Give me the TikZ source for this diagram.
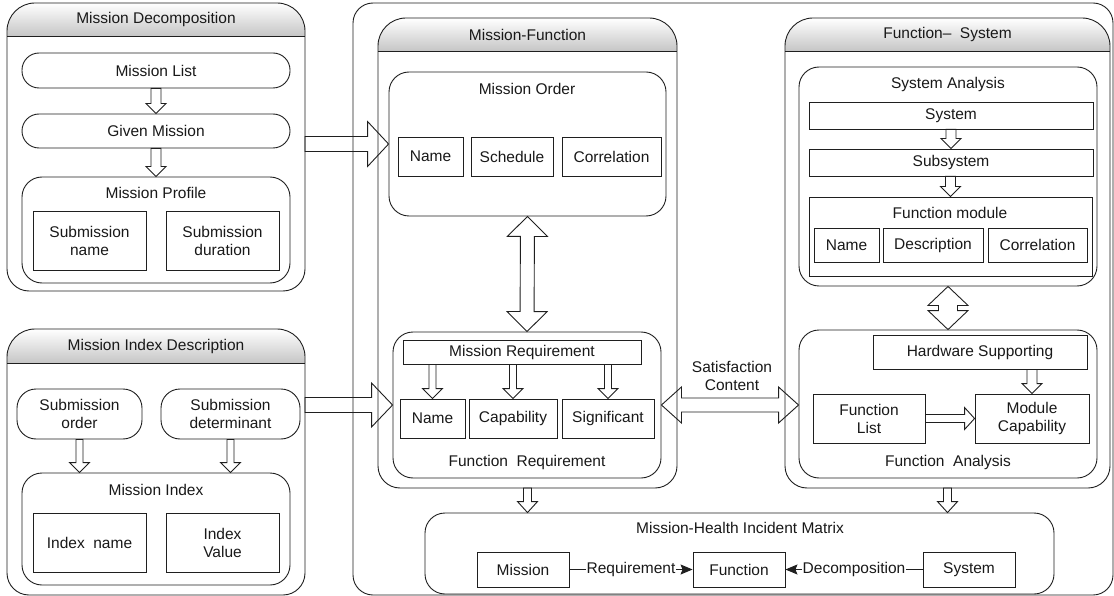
\documentclass[tikz,border=0pt]{standalone}
\usepackage{fontspec}
\setmainfont{Liberation Sans}
\usetikzlibrary{calc,fit,arrows.meta}

\tikzset{
  every node/.style={font=\fontsize{15.5}{18}\selectfont, text=black!90},
  ln/.style={draw=black!88, line width=0.9pt},
  box/.style={ln, fill=white, rectangle, inner sep=0pt, align=center},
  rbox/.style={box, rounded corners=20pt},
  pill/.style={box, rounded corners=17pt},
  tallpill/.style={box, rounded corners=19pt},
  barrow/.style={ln, line join=miter},
  conn/.style={ln, -{Stealth[length=12pt,width=10pt,inset=2pt]}},
  lab/.style={fill=white, inner sep=1pt},
  title/.style={inner sep=0pt},
}

% box by its corners (x1,y1)-(x2,y2), y measured downwards
\newcommand\bx[7]{%
  \node[#6, minimum width={(#4)-(#2)}, minimum height={(#5)-(#3)}]
    (#1) at ({((#2)+(#4))/2},{-((#3)+(#5))/2}) {#7};}

% panel with a shaded title bar: name, x1, y1, x2, y2, title-bar bottom, title
\newcommand\panel[7]{%
  \node[inner sep=0pt, outer sep=0pt, fit={(#2,-#3)(#4,-#5)}] (#1) {};
  \shade[top color=white, bottom color=gray!45]
    (#2,-#6) -- (#2,-#3-28) arc[start angle=180,end angle=90,radius=28]
    -- (#4-28,-#3) arc[start angle=90,end angle=0,radius=28] -- (#4,-#6) -- cycle;
  \draw[ln] (#2,-#6) -- (#2,-#3-28) arc[start angle=180,end angle=90,radius=28]
    -- (#4-28,-#3) arc[start angle=90,end angle=0,radius=28]
    -- (#4,-#5+22) arc[start angle=0,end angle=-90,radius=22]
    -- (#2+22,-#5) arc[start angle=270,end angle=180,radius=22] -- cycle;
  \draw[ln] (#2,-#6) -- (#4,-#6);
  \node[title] (#1-t) at ({(#2+#4)/2},{-(#3+#6)/2}) {#7};}

% hollow block arrow: start, end, half shaft, half head, head length
\newcommand\barrow[5]{%
  \coordinate (bah) at ($(#2)!#5!(#1)$);
  \draw[barrow] ($(#1)!#3!90:(#2)$) -- ($(bah)!#3!90:(#2)$)
    -- ($(bah)!#4!90:(#2)$) -- (#2) -- ($(bah)!#4!-90:(#2)$)
    -- ($(bah)!#3!-90:(#2)$) -- ($(#1)!#3!-90:(#2)$) -- cycle;}

% hollow double-headed block arrow
\newcommand\dbarrow[5]{%
  \coordinate (bah) at ($(#2)!#5!(#1)$);
  \coordinate (bat) at ($(#1)!#5!(#2)$);
  \draw[barrow] (#1) -- ($(bat)!#4!90:(#2)$) -- ($(bat)!#3!90:(#2)$)
    -- ($(bah)!#3!90:(#2)$) -- ($(bah)!#4!90:(#2)$) -- (#2)
    -- ($(bah)!#4!-90:(#2)$) -- ($(bah)!#3!-90:(#2)$)
    -- ($(bat)!#3!-90:(#2)$) -- ($(bat)!#4!-90:(#2)$) -- cycle;}

\begin{document}
\begin{tikzpicture}[x=1pt,y=1pt]
\useasboundingbox[fill=white] (0,0) rectangle (1114,-596);

% ---------- Mission Decomposition ----------
\panel{md}{7}{3}{305}{291}{36}{Mission Decomposition}
\bx{ml}{22}{53}{290}{88}{pill}{Mission List}
\bx{gm}{22}{114}{290}{148}{pill}{Given Mission}
\bx{mp}{22}{177}{290}{283}{rbox}{}
\node[title] (mp-t) at (156,-193) {Mission Profile};
\bx{sn}{33}{211}{146}{270}{box}{Submission\\name}
\bx{sd}{166}{211}{279}{270}{box}{Submission\\duration}

% ---------- Mission Index Description ----------
\panel{mid}{7}{329}{305}{595}{363}{Mission Index Description}
\bx{so}{17}{389}{142}{439}{tallpill}{Submission\\order}
\bx{sdt}{161}{389}{300}{439}{tallpill}{Submission\\determinant}
\bx{mi}{22}{473}{290}{585}{rbox}{}
\node[title] (mi-t) at (156,-490) {Mission Index};
\bx{inm}{33}{513}{146}{572}{box}{Index\ \ name}
\bx{iv}{166}{513}{279}{572}{box}{Index\\Value}

% ---------- outer container ----------
\node[ln, rounded corners=20pt, inner sep=0pt, minimum width=760, minimum height=592] (oc) at (733,-299) {};

% ---------- Mission-Function ----------
\panel{mf}{378}{18}{677}{488}{51}{Mission-Function}
\bx{mo}{389}{72}{666}{216}{rbox}{}
\node[title] (mo-t) at (527,-89) {Mission Order};
\bx{mon}{398}{137}{463}{176}{box}{Name}
\bx{mos}{471}{137}{553}{176}{box}{Schedule}
\bx{moc}{562}{137}{661}{176}{box}{Correlation}
\bx{fr}{393}{332}{661}{478}{rbox}{}
\node[title] (fr-t) at (527,-462) {Function\ \ Requirement};
\bx{mr}{403}{340}{641}{364}{box}{Mission Requirement}
\bx{frn}{400}{399}{465}{438}{box}{Name}
\bx{frc}{469}{399}{557}{438}{box}{Capability}
\bx{frs}{562}{399}{654}{438}{box}{Significant}

% ---------- Function-System ----------
\panel{fs}{785}{18}{1110}{488}{51}{Function–\ \ System}
\bx{sa}{799}{67}{1097}{286}{rbox}{}
\node[title] (sa-t) at (948,-84) {System Analysis};
\bx{sys}{809}{102}{1093}{129}{box}{System}
\bx{sub}{809}{149}{1093}{176}{box}{Subsystem}
\bx{fm}{809}{197}{1092}{276}{box}{}
\node[title] (fm-t) at (950,-213) {Function module};
\bx{fmn}{814}{228}{879}{262}{box}{Name}
\bx{fmd}{883}{228}{983}{262}{box}{Description}
\bx{fmc}{988}{228}{1087}{262}{box}{Correlation}
\bx{fa}{799}{330}{1097}{478}{rbox}{}
\node[title] (fa-t) at (948,-462) {Function\ \ Analysis};
\bx{hw}{873}{335}{1087}{369}{box}{Hardware Supporting}
\bx{fl}{813}{394}{925}{443}{box}{Function\\List}
\bx{mc}{975}{394}{1089}{443}{box}{Module\\Capability}

% ---------- Mission-Health Incident Matrix ----------
\bx{hm}{425}{513}{1054}{594}{rbox}{}
\node[title] (hm-t) at (740,-528) {Mission-Health Incident Matrix};
\bx{m}{477}{552}{569}{587}{box}{Mission}
\bx{f}{693}{552}{785}{587}{box}{Function}
\bx{s}{923}{552}{1015}{587}{box}{System}

% ---------- block arrows ----------
\barrow{ml.south}{gm.north}{5pt}{10pt}{10pt}
\barrow{gm.south}{mp.north}{5pt}{10pt}{10pt}
\coordinate (mia) at (so.south |- mi.north);
\barrow{so.south}{mia}{3.5pt}{10pt}{10pt}
\coordinate (mib) at (sdt.south |- mi.north);
\barrow{sdt.south}{mib}{3.5pt}{10pt}{10pt}

\coordinate (moin) at (md.east |- mo.west);
\barrow{moin}{mo.west}{7.5pt}{22.5pt}{21pt}
\coordinate (frin) at (mid.east |- fr.west);
\barrow{frin}{fr.west}{7.5pt}{22pt}{21pt}
\dbarrow{mo.south}{fr.north}{7pt}{20pt}{20pt}

\coordinate (r1) at (frn.north |- mr.south);
\barrow{r1}{frn.north}{3.5pt}{10pt}{10pt}
\coordinate (r2) at (frc.north |- mr.south);
\barrow{r2}{frc.north}{3.5pt}{10pt}{10pt}
\coordinate (r3) at (frs.north |- mr.south);
\barrow{r3}{frs.north}{3.5pt}{10pt}{10pt}

\barrow{sys.south}{sub.north}{5pt}{10pt}{10pt}
\coordinate (fmin) at (sub.south -| fm.north);
\barrow{fmin}{fm.north}{5pt}{10pt}{10pt}
\dbarrow{sa.south}{fa.north}{9.5pt}{20pt}{19pt}
\coordinate (hwo) at (mc.north |- hw.south);
\barrow{hwo}{mc.north}{5pt}{10pt}{10pt}
\barrow{fl.east}{mc.west}{4pt}{11pt}{10pt}

\coordinate (faw) at (fr.east -| fa.west);
\dbarrow{fr.east}{faw}{7pt}{18pt}{20pt}
\node[align=center] (sat) at (732,-376) {Satisfaction\\Content};

\coordinate (hma) at (mf.south |- hm.north);
\barrow{mf.south}{hma}{4pt}{10pt}{11pt}
\coordinate (hmb) at (fs.south |- hm.north);
\barrow{fs.south}{hmb}{4pt}{10pt}{11pt}

% ---------- matrix connectors ----------
\draw[conn] (m) -- node[lab] {Requirement} (f);
\draw[conn] (s) -- node[lab] {Decomposition} (f);
\end{tikzpicture}
\end{document}
